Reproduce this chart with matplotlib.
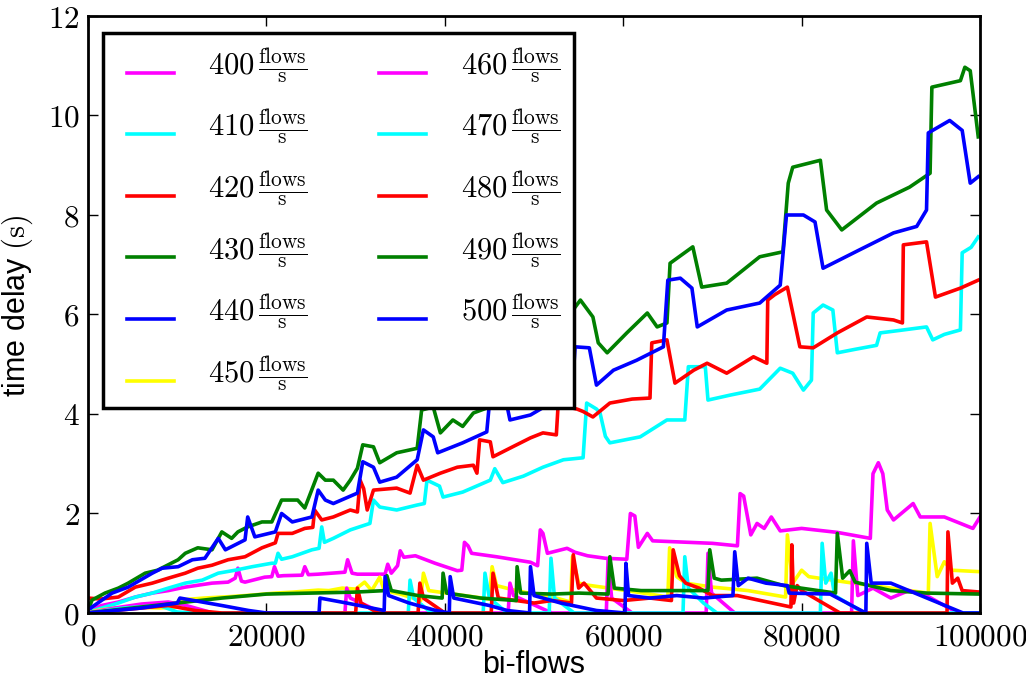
import matplotlib
matplotlib.use('Agg')
import numpy as np
import matplotlib.pyplot as plt
from matplotlib.ticker import FuncFormatter, MultipleLocator
from matplotlib.legend_handler import HandlerLine2D

plt.rcParams['mathtext.fontset'] = 'cm'
plt.rcParams['font.family'] = ['Liberation Sans', 'DejaVu Sans']

rates = [400, 410, 420, 430, 440, 450, 460, 470, 480, 490, 500]
colors = ['#ff00ff', '#00ffff', '#ff0000', '#008000', '#0000ff', '#ffff00',
          '#ff00ff', '#00ffff', '#ff0000', '#008000', '#0000ff']

x400 = [0, 1500, 3400, 5300, 7200, 9000, 10900, 13900, 15700, 16500, 16800, 17200, 17600, 19800, 20600,
        20900, 21300, 21900, 24000, 24300, 24700, 25800, 27300, 28800, 29100, 29600, 30200, 33300, 33600,
        34000, 34700, 35000, 35400, 36700, 38900, 41400, 41900, 42200, 42600, 43000, 45800, 49600, 50400,
        50700, 51000, 51500, 53700, 54600, 56000, 58000, 60400, 60800, 61300, 61700, 62700, 63300, 66000,
        70000, 72800, 73100, 73500, 74300, 75000, 75800, 76600, 77600, 80000, 84000, 87700, 88000, 88600,
        89100, 89600, 90300, 92500, 93300, 96000, 99200, 100000]
y400 = [0.05, 0.15, 0.22, 0.32, 0.40, 0.45, 0.52, 0.60, 0.62, 0.70, 0.90, 0.64, 0.62, 0.72, 0.73,
        0.93, 0.74, 0.75, 0.76, 0.93, 0.77, 0.78, 0.80, 0.82, 1.07, 0.80, 0.78, 0.78, 0.98,
        0.80, 0.95, 1.25, 1.12, 1.15, 1.00, 0.85, 0.86, 1.42, 1.35, 1.20, 1.13, 1.02, 0.95,
        1.67, 1.60, 1.20, 1.30, 1.22, 1.15, 1.10, 1.08, 2.00, 1.95, 1.32, 1.60, 1.45, 1.43,
        1.40, 1.35, 2.40, 2.35, 1.57, 1.80, 1.70, 1.93, 1.65, 1.70, 1.62, 1.50, 2.80, 3.02,
        2.80, 2.07, 1.87, 2.20, 1.93, 1.93, 1.70, 1.93]

x410 = [0, 800, 3400, 5300, 7200, 9000, 10900, 12800, 14600, 16500, 18400, 20600, 21000, 21300, 21700,
        22900, 25100, 25900, 26200, 26500, 27500, 29400, 31600, 32000, 32700, 34600, 36900, 37700, 38000,
        39400, 39800, 42000, 45100, 45600, 46500, 48800, 51000, 53300, 55500, 55900, 57000, 57400, 58000,
        58500, 61900, 64900, 66900, 67300, 69200, 69500, 72000, 75300, 77600, 79000, 80200, 81100, 81300,
        82400, 83500, 84000, 86000, 88400, 88800, 91000, 94000, 94700, 96000, 97800, 98000, 99000, 99800]
y410 = [0.02, 0.06, 0.20, 0.32, 0.40, 0.50, 0.60, 0.66, 0.80, 0.86, 0.93, 1.00, 1.00, 1.20, 1.08,
        1.13, 1.27, 1.30, 1.73, 1.42, 1.50, 1.67, 1.80, 2.27, 2.13, 2.07, 2.17, 2.20, 2.67,
        2.55, 2.33, 2.43, 2.67, 2.90, 2.62, 2.75, 2.93, 3.08, 3.12, 4.22, 4.10, 4.02, 3.55,
        3.42, 3.54, 3.88, 3.88, 4.95, 4.95, 4.28, 4.38, 4.50, 4.92, 4.82, 4.48, 4.68, 6.03,
        6.19, 6.09, 5.23, 5.30, 5.38, 5.63, 5.68, 5.75, 5.49, 5.60, 5.69, 7.24, 7.35, 7.56]

x420 = [0, 1400, 3400, 5300, 7200, 9000, 10900, 12300, 13900, 15700, 17600, 19500, 21000, 21300, 22900,
        24300, 25200, 25400, 26200, 27500, 29400, 30200, 30500, 30900, 31300, 32000, 34600, 36100, 36900,
        37600, 39500, 41400, 43200, 43600, 43900, 45100, 45400, 47600, 49600, 51000, 52500, 52700, 54800,
        55500, 56600, 58500, 61000, 63000, 63200, 64900, 65800, 67900, 69400, 71600, 74600, 76100, 76200,
        77000, 78400, 79800, 81300, 84000, 87300, 90300, 91300, 91400, 94000, 95000, 97800, 99800]
y420 = [0.30, 0.28, 0.32, 0.52, 0.60, 0.70, 0.80, 0.90, 0.96, 1.07, 1.13, 1.31, 1.41, 1.60, 1.60,
        1.70, 1.72, 2.07, 1.87, 1.93, 2.07, 2.03, 2.67, 2.50, 2.07, 2.47, 2.51, 2.41, 2.97,
        2.67, 2.81, 2.93, 2.97, 2.81, 3.48, 3.44, 3.14, 3.34, 3.52, 3.62, 3.58, 4.18, 4.10,
        4.05, 3.94, 4.22, 4.30, 4.32, 5.43, 5.49, 4.62, 4.88, 5.02, 4.82, 5.15, 5.02, 6.29,
        6.40, 6.55, 5.35, 5.33, 5.63, 5.95, 5.89, 5.83, 7.40, 7.46, 6.35, 6.53, 6.69]

x430 = [0, 450, 1900, 3400, 4500, 6400, 7800, 10100, 10900, 12300, 13900, 15000, 16100, 16800, 17900,
        19500, 20600, 21700, 23500, 24300, 25800, 26600, 27500, 28600, 29400, 30200, 30800, 32000, 32700,
        34600, 36900, 37400, 38700, 39500, 40900, 42000, 43200, 44700, 46000, 48000, 50000, 52000, 54000,
        55200, 56600, 57200, 58200, 60400, 62700, 63800, 64900, 65250, 67800, 68800, 71600, 75300, 77900,
        78500, 79000, 82100, 82800, 84500, 88400, 92100, 94400, 94600, 97800, 98300, 98900, 99800]
y430 = [0.05, 0.26, 0.40, 0.50, 0.60, 0.80, 0.86, 1.07, 1.20, 1.31, 1.27, 1.63, 1.50, 1.63, 1.73,
        1.83, 1.83, 2.27, 2.27, 2.11, 2.81, 2.67, 2.67, 2.47, 2.67, 2.91, 3.38, 3.34, 3.02,
        3.22, 3.31, 4.08, 4.14, 3.62, 3.88, 3.75, 4.02, 4.12, 4.60, 4.80, 5.30, 5.60, 6.00,
        6.29, 5.95, 5.43, 5.23, 5.63, 6.03, 5.75, 5.83, 7.03, 7.36, 6.55, 6.63, 7.16, 7.26,
        8.64, 8.96, 9.10, 8.10, 7.70, 8.24, 8.56, 8.84, 10.57, 10.70, 10.97, 10.90, 9.57]

x440 = [0, 450, 2700, 4500, 7200, 8300, 10100, 11700, 13100, 14600, 15400, 17600, 17900, 18700, 21000,
        21700, 22900, 25100, 25800, 26600, 27500, 30200, 30800, 32000, 32700, 34600, 36900, 37600, 38700,
        39200, 42000, 44700, 45000, 46500, 47000, 47300, 49600, 51500, 53000, 54300, 54600, 56200, 57000,
        58900, 61500, 64500, 65000, 66400, 67700, 68300, 71600, 75300, 77600, 78300, 80200, 81500, 82400,
        86500, 90300, 92900, 94000, 94200, 96600, 98000, 98900, 99800]
y440 = [0.05, 0.12, 0.40, 0.52, 0.80, 0.90, 0.93, 1.07, 1.10, 1.50, 1.27, 1.47, 1.93, 1.53, 1.63,
        2.00, 1.83, 1.93, 2.47, 2.27, 2.20, 2.41, 3.04, 2.93, 2.63, 2.73, 3.08, 3.68, 3.54,
        3.22, 3.42, 3.64, 4.22, 4.25, 4.14, 3.88, 3.98, 4.18, 4.35, 4.50, 5.35, 5.33, 4.58,
        4.88, 5.08, 5.35, 6.69, 6.73, 6.53, 5.75, 6.09, 6.23, 6.59, 8.00, 8.00, 7.86, 6.93,
        7.30, 7.64, 7.77, 8.10, 9.65, 9.90, 9.70, 8.64, 8.77]

x450 = [0, 1000, 3000, 5000, 8000, 10000, 10200, 13000, 16000, 18400, 21000, 23000, 25800, 27000, 28500,
        30000, 31000, 31800, 32700, 33200, 35000, 37300, 37600, 38200, 41000, 43000, 45000, 45300, 45800,
        48000, 50000, 52500, 54100, 54300, 55000, 56000, 60000, 63000, 65000, 65200, 66000, 67000, 70000,
        74000, 78200, 78400, 79000, 80000, 80800, 85000, 90000, 94200, 94400, 95200, 96000, 96800, 100000]
y450 = [0.00, 0.05, 0.10, 0.12, 0.10, 0.12, 0.26, 0.30, 0.33, 0.36, 0.40, 0.42, 0.46, 0.45, 0.50,
        0.48, 0.62, 0.45, 0.72, 0.45, 0.38, 0.25, 0.80, 0.45, 0.38, 0.33, 0.28, 0.93, 0.55,
        0.45, 0.38, 0.30, 0.22, 1.13, 0.60, 0.56, 0.46, 0.38, 0.32, 1.31, 0.73, 0.60, 0.52,
        0.45, 0.32, 1.57, 0.60, 0.86, 0.73, 0.62, 0.50, 0.40, 1.80, 0.73, 1.03, 0.86, 0.83]

x460 = [0, 3000, 6000, 9000, 11000, 14000, 28800, 29000, 29400, 33000, 47100, 47300, 47700, 52000,
        58100, 58300, 58700, 61000, 69300, 69500, 69900, 72500, 85600, 85800, 86300, 88000, 90000, 92000,
        94000, 95500, 97500, 100000]
y460 = [0.00, 0.10, 0.18, 0.22, 0.15, 0.00, 0.00, 0.50, 0.30, 0.00, 0.00, 0.60, 0.35, 0.00,
        0.00, 1.07, 0.30, 0.00, 0.00, 1.20, 0.40, 0.00, 0.00, 1.45, 0.35, 0.50, 0.30, 0.45,
        0.35, 0.20, 0.00, 0.00]

x470 = [0, 4000, 8000, 10000, 12000, 35900, 36100, 36500, 38500, 44300, 44500, 45000, 47000, 51700,
        51900, 52300, 54500, 66700, 66900, 67300, 69000, 70500, 82100, 82300, 82700, 83300, 83700, 87000,
        100000]
y470 = [0.00, 0.10, 0.15, 0.02, 0.00, 0.00, 0.66, 0.30, 0.00, 0.00, 0.80, 0.30, 0.00, 0.00,
        1.10, 0.30, 0.00, 0.00, 1.13, 0.50, 0.20, 0.00, 0.00, 1.40, 0.60, 0.80, 0.35, 0.00,
        0.00]

x480 = [0, 6000, 9000, 12000, 15000, 30000, 30200, 30600, 32500, 37000, 37200, 37600, 40000, 45200,
        45400, 46000, 48000, 50000, 52000, 54200, 54400, 55000, 55600, 57000, 60000, 63000, 65400, 65600,
        66300, 67000, 68500, 70000, 72800, 78800, 78900, 79100, 79500, 80000, 84300, 96300, 96400, 96900,
        97500, 98000, 100000]
y480 = [0.00, 0.10, 0.15, 0.05, 0.00, 0.00, 0.50, 0.20, 0.00, 0.00, 0.60, 0.30, 0.00, 0.00,
        0.80, 0.30, 0.25, 0.20, 0.25, 0.20, 1.17, 0.50, 0.60, 0.30, 0.25, 0.30, 0.25, 1.27,
        0.75, 0.60, 0.50, 0.35, 0.35, 0.12, 1.37, 0.20, 0.55, 0.45, 0.00, 0.00, 1.63, 0.60,
        0.70, 0.45, 0.42]

x490 = [0, 5000, 10000, 15000, 20000, 25000, 30000, 33300, 33500, 34000, 37000, 39700, 39800, 40200,
        44000, 48000, 48100, 48500, 52000, 55000, 58300, 58500, 59000, 62000, 64500, 69500, 69700, 70200,
        71000, 75000, 78000, 83800, 84000, 84600, 85400, 86000, 90000, 94000, 100000]
y490 = [0.00, 0.10, 0.20, 0.30, 0.38, 0.40, 0.42, 0.45, 0.75, 0.45, 0.35, 0.30, 0.80, 0.40,
        0.30, 0.25, 0.93, 0.40, 0.38, 0.40, 0.38, 1.13, 0.50, 0.45, 0.45, 0.45, 1.27, 0.70,
        0.66, 0.70, 0.55, 0.40, 1.60, 0.70, 0.85, 0.62, 0.45, 0.40, 0.38]

x500 = [0, 6000, 10000, 10300, 15000, 18000, 20000, 25900, 26000, 29000, 33200, 33300, 33700, 36000,
        39000, 40500, 40600, 41000, 45000, 47000, 49500, 49600, 50000, 53000, 57000, 60200, 60300, 60600,
        63000, 66000, 69000, 72300, 72500, 72900, 74000, 76000, 78400, 78600, 83200, 87200, 87300, 87800,
        90000, 98100, 100000]
y500 = [0.00, 0.10, 0.20, 0.30, 0.15, 0.05, 0.00, 0.00, 0.30, 0.20, 0.05, 0.73, 0.35, 0.20,
        0.05, 0.00, 0.73, 0.30, 0.15, 0.05, 0.00, 0.93, 0.35, 0.20, 0.05, 0.00, 1.00, 0.35,
        0.30, 0.35, 0.30, 0.35, 1.23, 0.55, 0.70, 0.60, 0.55, 0.40, 0.38, 0.00, 1.40, 0.60,
        0.60, 0.00, 0.00]

xs = [x400, x410, x420, x430, x440, x450, x460, x470, x480, x490, x500]
ys = [y400, y410, y420, y430, y440, y450, y460, y470, y480, y490, y500]


class LowLineHandler(HandlerLine2D):
    """Legend line drawn near the baseline of the number, inset from the left."""
    def create_artists(self, legend, orig_handle, xdescent, ydescent,
                       width, height, fontsize, trans):
        arts = super().create_artists(legend, orig_handle, xdescent, ydescent,
                                      width, height, fontsize, trans)
        for a in arts:
            yd = np.asarray(a.get_ydata(), dtype=float)
            a.set_ydata(np.full(2, yd[0] - 0.25 * fontsize))
            a.set_xdata([width - 1.53 * fontsize, width])
        return arts


fig = plt.figure(figsize=(10.26, 6.78), dpi=100)
ax = fig.add_axes([0.0858, 0.0959, 0.8694, 0.8805])

lines = []
for r, c, xv, yv in zip(rates, colors, xs, ys):
    ln, = ax.plot(xv, yv, color=c, lw=2.6,
                  label=r'$%d\,\frac{\mathrm{flows}}{\mathrm{s}}$' % r)
    lines.append(ln)

ax.set_xlim(0, 100000)
ax.set_ylim(0, 12)
ax.xaxis.set_major_locator(MultipleLocator(20000))
ax.yaxis.set_major_locator(MultipleLocator(2))
fmt = FuncFormatter(lambda v, p: r'$%d$' % int(round(v)))
ax.xaxis.set_major_formatter(fmt)
ax.yaxis.set_major_formatter(fmt)
ax.tick_params(direction='in', length=7, width=1, top=True, right=True,
               labelsize=22.5)
ax.tick_params(axis='x', pad=7)
ax.tick_params(axis='y', pad=6)
for s in ax.spines.values():
    s.set_linewidth(2)

ax.set_xlabel(r'bi-flows', fontsize=22)
ax.set_ylabel(r'time delay $(\mathrm{s})$', fontsize=22)
ax.xaxis.set_label_coords(0.5, -0.062)
ax.yaxis.set_label_coords(-0.06, 0.515)

leg = ax.legend(ncol=2, loc='upper left', bbox_to_anchor=(0.0168, 0.9715),
                borderaxespad=0, fontsize=22, handlelength=1.86,
                handletextpad=1.14, columnspacing=2.0, labelspacing=0.74,
                borderpad=0.45, fancybox=False, framealpha=1,
                handler_map={ln: LowLineHandler() for ln in lines})
leg.get_frame().set_edgecolor('black')
leg.get_frame().set_linewidth(2.5)

fig.savefig('out.png', dpi=100)
